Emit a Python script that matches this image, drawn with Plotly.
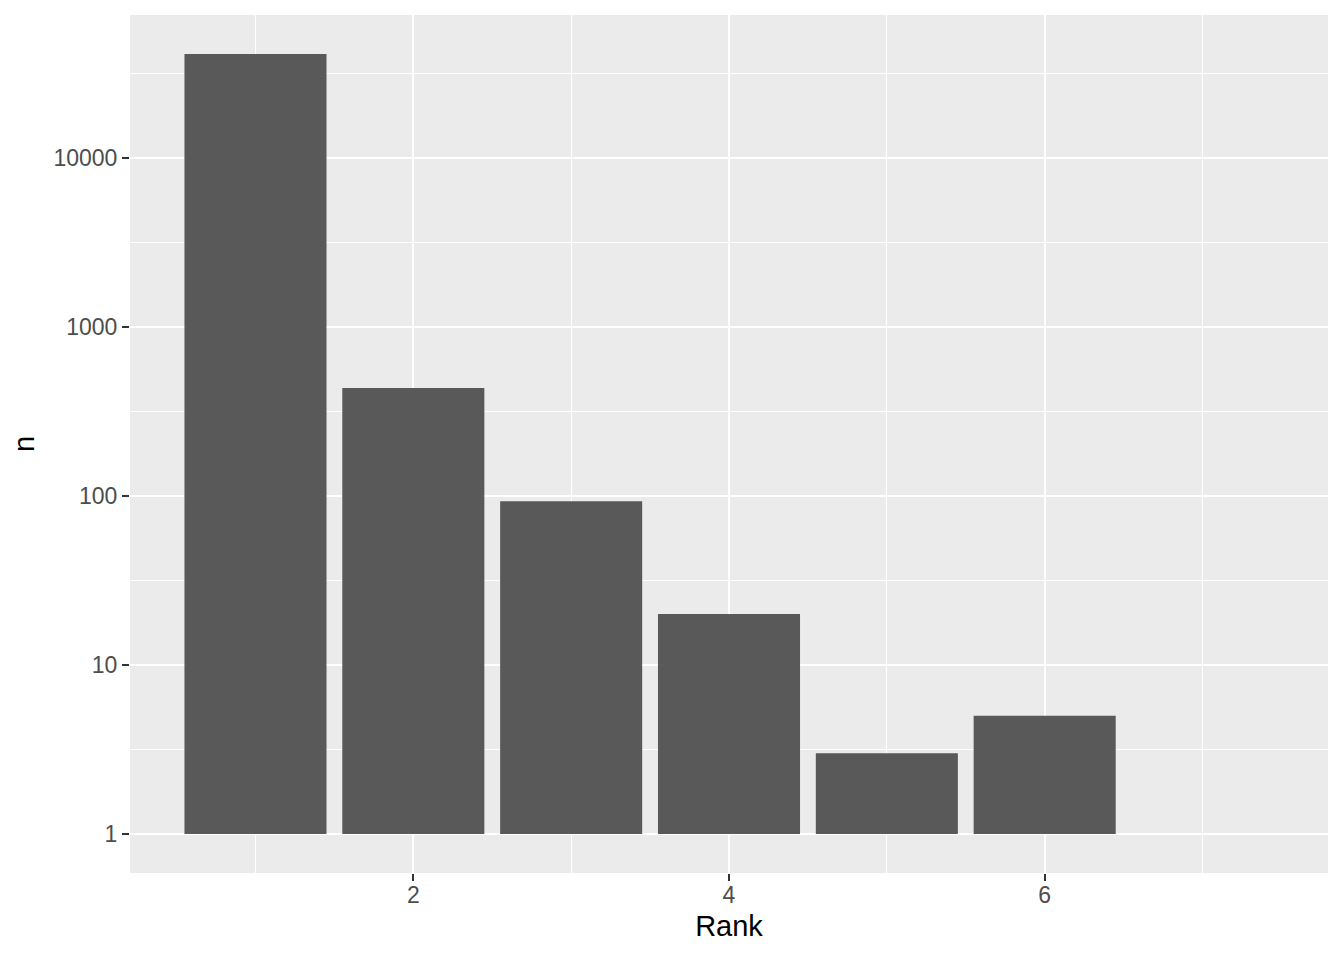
import numpy as np
import plotly.graph_objects as go

# rank counts
rank = [1, 2, 3, 4, 5, 6, 7]
n = [41200, 436, 93, 20, 3, 5, 1]

x_major = [2, 4, 6]
x_minor = [1, 3, 5, 7]
y_major = [1, 10, 100, 1000, 10000]
y_minor = [10 ** 0.5, 10 ** 1.5, 10 ** 2.5, 10 ** 3.5, 10 ** 4.5]

# ggplot-style ranges: 5% expansion around bars of width 0.9 / log10 counts
x_lo, x_hi = min(rank) - 0.45, max(rank) + 0.45
x_pad = 0.05 * (x_hi - x_lo)
y_top = np.log10(max(n))
y_pad = 0.05 * y_top

fig = go.Figure()
fig.add_trace(go.Bar(
    x=rank,
    y=[v - 1 for v in n],   # bars start at 1 on the log scale
    base=1,
    width=0.9,
    marker=dict(color="#595959", line=dict(width=0)),
    customdata=n,
    hovertemplate="Rank %{x}<br>n = %{customdata}<extra></extra>",
))

tick_font = dict(family="Liberation Sans, Arial, sans-serif", size=23, color="#4D4D4D")
title_font = dict(family="Liberation Sans, Arial, sans-serif", size=29, color="black")

# page body adds an 8px offset, margins are set to make up for it
fig.update_layout(
    width=1344,
    height=960,
    margin=dict(l=122, r=24, t=7, b=95),
    paper_bgcolor="white",
    plot_bgcolor="#EBEBEB",
    showlegend=False,
    font=dict(family="Liberation Sans, Arial, sans-serif"),
)

fig.update_xaxes(
    range=[x_lo - x_pad, x_hi + x_pad],
    tickmode="array",
    tickvals=x_major,
    ticktext=[str(v) for v in x_major],
    ticks="outside",
    ticklen=7,
    tickwidth=2,
    tickcolor="#333333",
    tickfont=tick_font,
    ticklabelstandoff=-6,
    showgrid=True,
    gridcolor="white",
    gridwidth=2.2,
    minor=dict(tickmode="array", tickvals=x_minor, showgrid=True,
               gridcolor="white", gridwidth=1.1, ticks=""),
    zeroline=False,
    showline=False,
    title=dict(text="Rank", font=title_font, standoff=9),
    automargin=False,
)

fig.update_yaxes(
    type="log",
    range=[-y_pad, y_top + y_pad],
    tickmode="array",
    tickvals=y_major,
    ticktext=[str(v) for v in y_major],
    ticks="outside",
    ticklen=7,
    tickwidth=2,
    tickcolor="#333333",
    tickfont=tick_font,
    showgrid=True,
    gridcolor="white",
    gridwidth=2.2,
    minor=dict(tickmode="array", tickvals=y_minor, showgrid=True,
               gridcolor="white", gridwidth=1.1, ticks=""),
    zeroline=False,
    showline=False,
    title=dict(text="n", font=title_font, standoff=15),
    automargin=False,
)

fig.write_html("out.html")
